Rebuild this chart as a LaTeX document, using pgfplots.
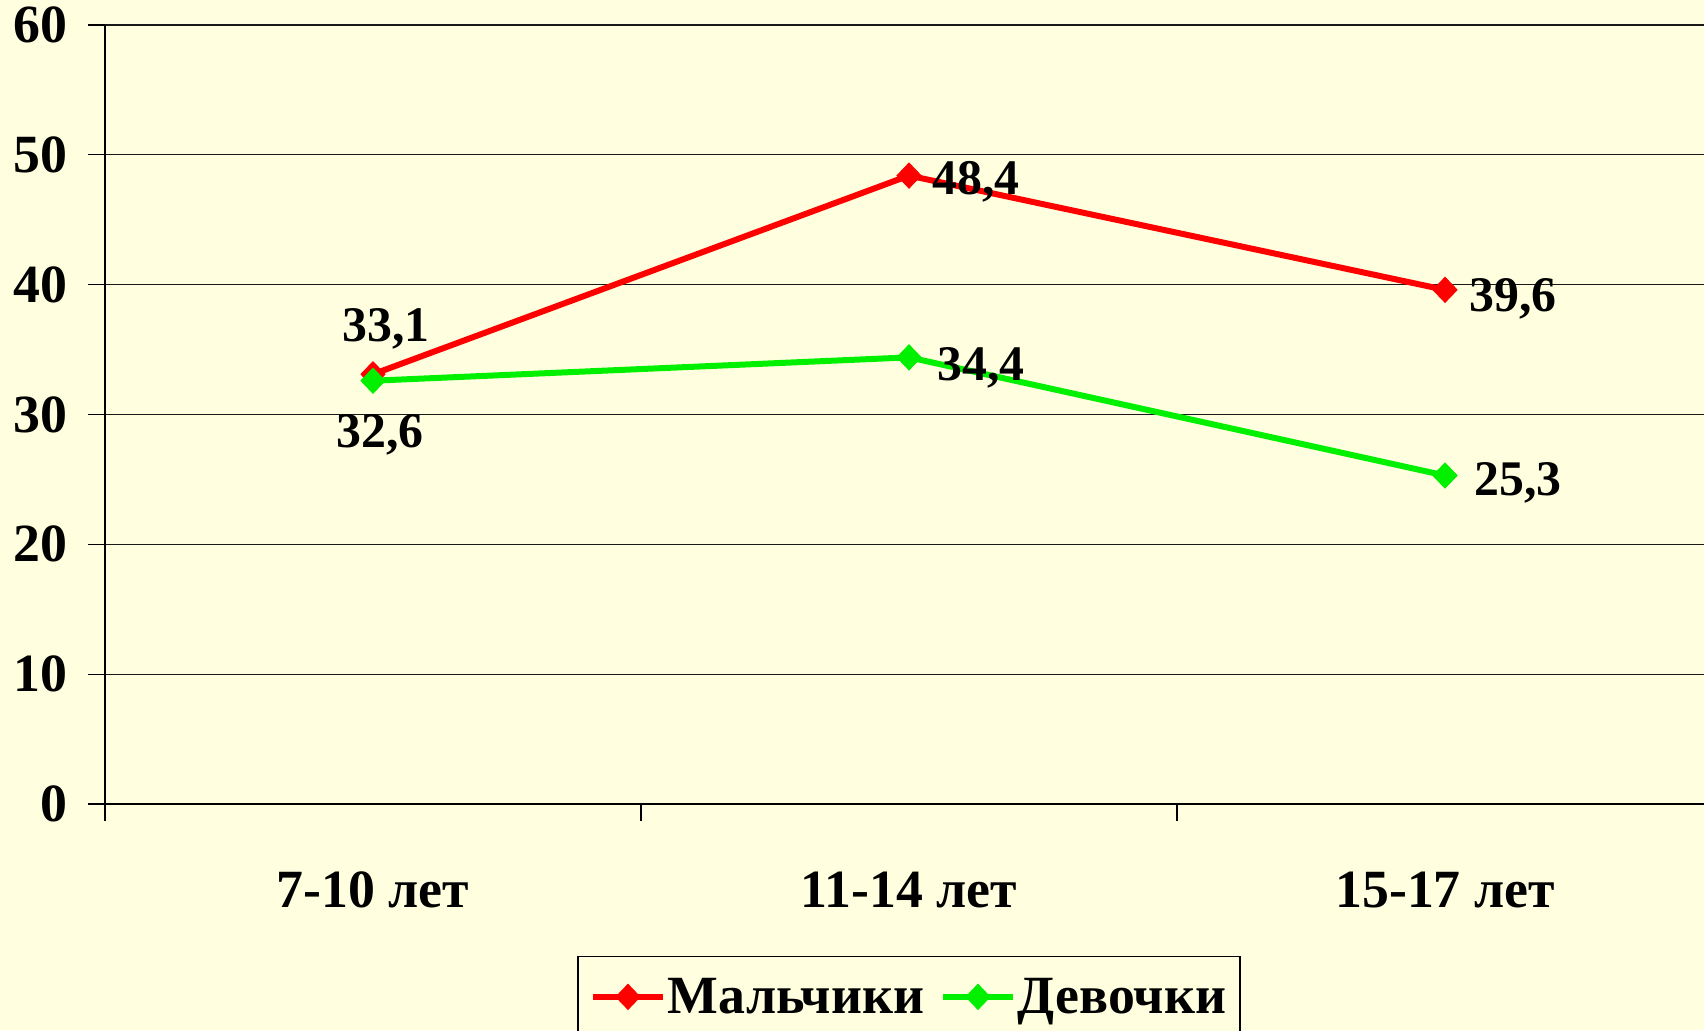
\documentclass[border=0pt]{standalone}
\usepackage{fontspec}
\setmainfont{Liberation Serif}
\usepackage{pgfplots}
\pgfplotsset{compat=1.18}
\definecolor{bg}{HTML}{FFFFE0}
\definecolor{mred}{HTML}{FF0000}
\definecolor{mgreen}{HTML}{00F000}
\newcommand{\bigf}{\fontsize{50}{60}\selectfont\bfseries}
\begin{document}
\begin{tikzpicture}[x=1bp,y=1bp]
\path[use as bounding box, fill=bg] (0,0) rectangle (1704,1030);
\begin{axis}[
  at={(105bp,226bp)}, anchor=south west,
  scale only axis, width=1608bp, height=779bp,
  xmin=-0.5, xmax=2.5, ymin=0, ymax=60,
  axis x line*=bottom, axis y line*=left,
  axis line style={line width=1.2bp, black},
  xtick={-0.5,0.5,1.5,2.5},
  xticklabels={},
  extra x ticks={0,1,2},
  extra x tick labels={7-10 лет, 11-14 лет, 15-17 лет},
  extra x tick style={major tick length=0bp, grid=none},
  ytick={0,10,...,60},
  tick align=outside,
  major tick length=16.5bp,
  tick style={line width=1.2bp, black},
  ymajorgrids, grid style={line width=1.3bp, black!90},
  /pgf/number format/assume math mode=true,
  yticklabel style={font=\fontsize{54}{64}\selectfont\bfseries, anchor=east, inner sep=0bp, xshift=-21bp},
  xticklabel style={font=\fontsize{54}{64}\selectfont\bfseries, anchor=north, inner sep=0bp, yshift=-68bp},
  nodes near coords={\pgfmathprintnumber[use comma,fixed,precision=1,fixed zerofill]{\pgfplotspointmeta}},
  every node near coord/.append style={font=\bigf, inner sep=2bp, text=black},
  legend style={at={(0.5,-0.195)}, anchor=north, legend columns=2,
    draw=black, line width=1.2bp, fill=bg, font=\fontsize{54}{64}\selectfont\bfseries,
    inner xsep=12bp, inner ysep=20bp,
    /tikz/every even column/.append style={column sep=14bp}},
  legend cell align=left,
  legend image code/.code={\draw[mark repeat=2, mark phase=2] plot coordinates {(0bp,0bp) (35bp,0bp) (70bp,0bp)};},
]
\addplot[color=mred, line width=6bp, mark=diamond*, mark size=12.5bp,
  mark options={fill=mred, line width=1bp, xscale=1.28},
  coordinate style/.condition={\coordindex==0}{anchor=south, xshift=13bp, yshift=23bp},
  coordinate style/.condition={\coordindex==1}{anchor=west, xshift=21bp, yshift=-6.5bp},
  coordinate style/.condition={\coordindex==2}{anchor=west, xshift=22bp, yshift=-9.5bp},
] coordinates {(0,33.1) (1,48.4) (2,39.6)};
\addlegendentry{Мальчики}
\addplot[color=mgreen, line width=6bp, mark=diamond*, mark size=12.5bp,
  mark options={fill=mgreen, line width=1bp, xscale=1.28},
  coordinate style/.condition={\coordindex==0}{anchor=north, xshift=7bp, yshift=-31bp},
  coordinate style/.condition={\coordindex==1}{anchor=west, xshift=26bp, yshift=-10bp},
  coordinate style/.condition={\coordindex==2}{anchor=west, xshift=27bp, yshift=-7.5bp},
] coordinates {(0,32.6) (1,34.4) (2,25.3)};
\addlegendentry{Девочки}
\end{axis}
\end{tikzpicture}
\end{document}
